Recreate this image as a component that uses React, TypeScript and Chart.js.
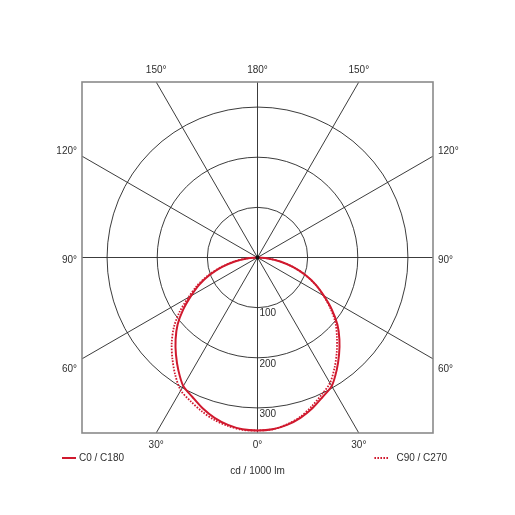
import React, { useEffect, useRef } from "react";
import { Chart, registerables } from "chart.js";

Chart.register(...registerables);

// Gamma angles (degrees from nadir)
const GAMMA = [0, 5, 10, 15, 20, 25, 30, 35, 40, 45, 50, 55, 60, 65, 70, 75, 80, 85, 90];
// Intensities in cd / 1000 lm
const C0_C180 = [345, 344, 339, 331, 320, 307, 296, 275, 253, 231, 208, 181, 153, 128, 101, 73, 46, 21, 0];
const C90 = [345, 344, 338, 329, 316, 302, 289, 268, 246, 224, 203, 178, 152, 127, 101, 73, 46, 21, 0];
const C270 = [345, 345, 341, 335, 326, 316, 306, 286, 264, 242, 218, 190, 159, 133, 105, 76, 48, 22, 0];

const RINGS = [100, 200, 300];
const RING_LABELS = ["100", "200", "300"];
const RADIAL_ANGLES = [-150, -120, -90, -60, -30, 0, 30, 60, 90, 120, 150, 180];
const AXIS_MAX = 350;
const UNIT_LABEL = "cd / 1000 lm";
const LEGEND_LABELS = ["C0 / C180", "C90 / C270"];

const RED = "#d0192e";
const TEXT = "#2e2e2e";
const FONT = '10px "Liberation Sans", Arial, sans-serif';

function toPoints(left: number[], right: number[]) {
  const pts: { x: number; y: number }[] = [];
  for (let i = GAMMA.length - 1; i >= 0; i--) {
    const g = (GAMMA[i] * Math.PI) / 180;
    pts.push({ x: -left[i] * Math.sin(g), y: -left[i] * Math.cos(g) });
  }
  for (let i = 1; i < GAMMA.length; i++) {
    const g = (GAMMA[i] * Math.PI) / 180;
    pts.push({ x: right[i] * Math.sin(g), y: -right[i] * Math.cos(g) });
  }
  return pts;
}

const polarGrid = {
  id: "polarGrid",
  beforeDatasetsDraw(chart: any) {
    const { ctx, chartArea, scales } = chart;
    const xs = scales.x;
    const ys = scales.y;
    const cx = xs.getPixelForValue(0);
    const cy = ys.getPixelForValue(0);
    ctx.save();
    ctx.strokeStyle = "#262626";
    ctx.lineWidth = 0.9;
    RINGS.forEach((r) => {
      const rp = xs.getPixelForValue(r) - cx;
      ctx.beginPath();
      ctx.arc(cx, cy, rp, 0, Math.PI * 2);
      ctx.stroke();
    });
    ctx.font = FONT;
    ctx.fillStyle = TEXT;
    RADIAL_ANGLES.forEach((a) => {
      const g = (a * Math.PI) / 180;
      const dx = Math.sin(g);
      const dy = -Math.cos(g);
      const t = AXIS_MAX / Math.max(Math.abs(dx), Math.abs(dy));
      const ex = xs.getPixelForValue(dx * t);
      const ey = ys.getPixelForValue(dy * t);
      ctx.beginPath();
      ctx.moveTo(cx, cy);
      ctx.lineTo(ex, ey);
      ctx.stroke();
      const label = `${Math.abs(a)}°`;
      ctx.textBaseline = "middle";
      if (Math.abs(dy) > Math.abs(dx)) {
        ctx.textAlign = "center";
        const ly = dy > 0 ? ey - 12 : ey + 12;
        ctx.fillText(label, ex, ly);
      } else {
        const ly = ey + (ey - cy) * 0.075 + 2.5;
        if (dx < 0) {
          ctx.textAlign = "right";
          ctx.fillText(label, ex - 5, ly);
        } else {
          ctx.textAlign = "left";
          ctx.fillText(label, ex + 5, ly);
        }
      }
    });
    ctx.strokeStyle = "#8a8a8a";
    ctx.lineWidth = 1.6;
    ctx.strokeRect(chartArea.left, chartArea.top, chartArea.right - chartArea.left, chartArea.bottom - chartArea.top);
    ctx.textAlign = "left";
    ctx.textBaseline = "middle";
    RINGS.forEach((r, i) => {
      const py = ys.getPixelForValue(-r);
      ctx.fillText(RING_LABELS[i], cx + 2, py + 6);
    });
    ctx.restore();
  },
  afterDatasetsDraw(chart: any) {
    const { ctx, scales } = chart;
    const cx = scales.x.getPixelForValue(0);
    const cy = scales.y.getPixelForValue(0);
    ctx.save();
    ctx.fillStyle = "#111";
    ctx.beginPath();
    ctx.arc(cx, cy, 2, 0, Math.PI * 2);
    ctx.fill();
    ctx.restore();
  },
  afterDraw(chart: any) {
    const { ctx, chartArea } = chart;
    ctx.save();
    ctx.font = FONT;
    ctx.fillStyle = TEXT;
    ctx.textBaseline = "middle";
    const ly = chartArea.bottom + 25;
    // left legend
    ctx.strokeStyle = RED;
    ctx.lineWidth = 2;
    ctx.beginPath();
    ctx.moveTo(chartArea.left - 20, ly);
    ctx.lineTo(chartArea.left - 6, ly);
    ctx.stroke();
    ctx.textAlign = "left";
    ctx.fillText(LEGEND_LABELS[0], chartArea.left - 3, ly);
    // right legend
    const textRight = chartArea.right + 14;
    const w = ctx.measureText(LEGEND_LABELS[1]).width;
    const ts = textRight - w;
    ctx.setLineDash([1.6, 1.4]);
    ctx.beginPath();
    ctx.moveTo(ts - 22, ly);
    ctx.lineTo(ts - 7, ly);
    ctx.stroke();
    ctx.setLineDash([]);
    ctx.fillText(LEGEND_LABELS[1], ts, ly);
    // unit label
    ctx.textAlign = "center";
    ctx.fillText(UNIT_LABEL, (chartArea.left + chartArea.right) / 2, chartArea.bottom + 38);
    ctx.restore();
  },
};

export default function App() {
  const ref = useRef<HTMLCanvasElement | null>(null);
  useEffect(() => {
    if (!ref.current) return;
    const chart = new Chart(ref.current, {
      type: "scatter",
      data: {
        datasets: [
          {
            label: LEGEND_LABELS[0],
            data: toPoints(C0_C180, C0_C180),
            showLine: true,
            borderColor: RED,
            backgroundColor: RED,
            borderWidth: 2,
            pointRadius: 0,
            tension: 0.3,
            fill: false,
          },
          {
            label: LEGEND_LABELS[1],
            data: toPoints(C270, C90),
            showLine: true,
            borderColor: RED,
            backgroundColor: RED,
            borderWidth: 1.8,
            borderDash: [1.6, 1.4],
            pointRadius: 0,
            tension: 0.3,
            fill: false,
          },
        ],
      },
      options: {
        responsive: false,
        animation: false,
        layout: { padding: { left: 82, right: 82, top: 82, bottom: 82 } },
        scales: {
          x: { type: "linear", min: -AXIS_MAX, max: AXIS_MAX, display: false },
          y: { type: "linear", min: -AXIS_MAX, max: AXIS_MAX, display: false },
        },
        plugins: {
          legend: { display: false },
          tooltip: { enabled: false },
        },
      },
      plugins: [polarGrid],
    } as any);
    return () => chart.destroy();
  }, []);
  return (
    <div style={{ position: "absolute", left: 0, top: 0, width: 515, height: 515, background: "#fff" }}>
      <canvas ref={ref} width={515} height={515} />
    </div>
  );
}
